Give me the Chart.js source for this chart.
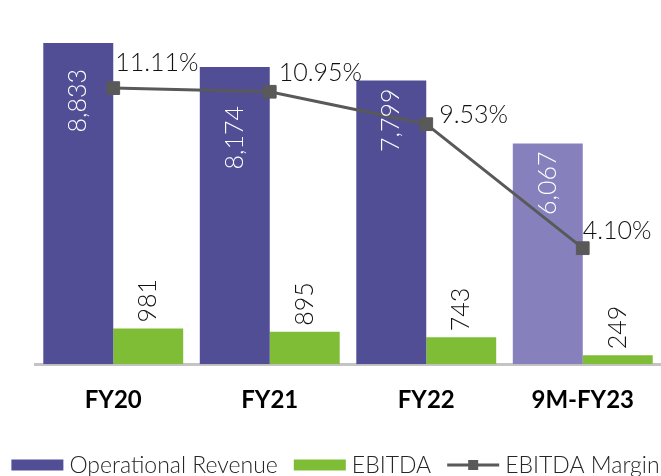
<!DOCTYPE html>
<html>
<head>
<meta charset="utf-8">
<script src="https://cdn.jsdelivr.net/npm/chart.js@4.4.0/dist/chart.umd.min.js"></script>
<style>
  html, body { margin: 0; padding: 0; background: #fff; overflow: hidden; }
</style>
</head>
<body>
<canvas id="miGrafico" width="671" height="476"></canvas>
<script>
// datos
const categorias = ['FY20', 'FY21', 'FY22', '9M-FY23'];
const ingresos = [8833, 8174, 7799, 6067];
const ebitda = [981, 895, 743, 249];
const margen = [11.11, 10.95, 9.53, 4.10];

const MORADO = '#524e96';
const MORADO_CLARO = '#8681bd';
const VERDE = '#7fbd37';
const GRIS = '#595959';
const FUENTE = 'Lato, "DejaVu Sans", sans-serif';

// desplazamientos de las etiquetas (estilo, no datos)
const bajadaIngresos = [26, 39, 8, 8];
const dxMargen = [2, 9, 13, 0];
const dyMargen = [-25, -19, -9, -17];

const etiquetas = {
  id: 'etiquetas',
  afterDatasetsDraw(chart) {
    const ctx = chart.ctx;
    ctx.save();
    ctx.font = '300 25px ' + FUENTE;
    ctx.textBaseline = 'middle';

    chart.getDatasetMeta(1).data.forEach(function (bar, i) {
      ctx.save();
      ctx.translate(bar.x, bar.y + bajadaIngresos[i]);
      ctx.rotate(-Math.PI / 2);
      ctx.textAlign = 'right';
      ctx.fillStyle = '#ffffff';
      ctx.fillText(ingresos[i].toLocaleString('en-US'), 0, 0);
      ctx.restore();
    });

    chart.getDatasetMeta(2).data.forEach(function (bar, i) {
      ctx.save();
      ctx.translate(bar.x, bar.y - 6);
      ctx.rotate(-Math.PI / 2);
      ctx.textAlign = 'left';
      ctx.fillStyle = '#111111';
      ctx.fillText(String(ebitda[i]), 0, 0);
      ctx.restore();
    });

    chart.getDatasetMeta(0).data.forEach(function (pt, i) {
      ctx.textAlign = 'left';
      ctx.fillStyle = '#111111';
      ctx.fillText(margen[i].toFixed(2) + '%', pt.x + dxMargen[i], pt.y + dyMargen[i]);
    });
    ctx.restore();
  }
};

// leyenda dibujada a mano para poder poner la linea con el cuadrado
const leyenda = {
  id: 'leyenda',
  afterDraw(chart) {
    const ctx = chart.ctx;
    const y = 465;
    ctx.save();
    ctx.font = '300 23px ' + FUENTE;
    ctx.textBaseline = 'middle';
    ctx.textAlign = 'left';
    const items = [
      { texto: chart.data.datasets[1].label, tipo: 'caja', color: MORADO },
      { texto: chart.data.datasets[2].label, tipo: 'caja', color: VERDE },
      { texto: chart.data.datasets[0].label, tipo: 'linea', color: GRIS }
    ];
    const ancho = 52, hueco = 6, entre = 16;
    let total = 0;
    items.forEach(function (it) {
      it.w = ancho + hueco + ctx.measureText(it.texto).width;
      total += it.w;
    });
    total += entre * (items.length - 1);
    let x = 335.5 - total / 2;
    items.forEach(function (it) {
      if (it.tipo === 'caja') {
        ctx.fillStyle = it.color;
        ctx.fillRect(x, y - 5.5, ancho, 11);
      } else {
        ctx.strokeStyle = it.color;
        ctx.lineWidth = 3;
        ctx.beginPath();
        ctx.moveTo(x, y);
        ctx.lineTo(x + ancho, y);
        ctx.stroke();
        ctx.fillStyle = it.color;
        ctx.fillRect(x + ancho / 2 - 5, y - 5, 10, 10);
      }
      ctx.fillStyle = '#262626';
      ctx.fillText(it.texto, x + ancho + hueco, y + 1);
      x += it.w + entre;
    });
    ctx.restore();
  }
};

const grafico = new Chart(document.getElementById('miGrafico'), {
  data: {
    labels: categorias,
    datasets: [
      {
        type: 'line',
        label: 'EBITDA Margin',
        data: margen,
        yAxisID: 'y1',
        borderColor: GRIS,
        backgroundColor: GRIS,
        borderWidth: 3,
        pointStyle: 'rect',
        pointRadius: 9,
        pointBorderWidth: 1,
        pointBackgroundColor: GRIS,
        pointBorderColor: GRIS,
        order: 0
      },
      {
        type: 'bar',
        label: 'Operational Revenue',
        data: ingresos,
        yAxisID: 'y',
        backgroundColor: [MORADO, MORADO, MORADO, MORADO_CLARO],
        borderWidth: 0,
        categoryPercentage: 0.894,
        barPercentage: 1.0,
        order: 1
      },
      {
        type: 'bar',
        label: 'EBITDA',
        data: ebitda,
        yAxisID: 'y',
        backgroundColor: VERDE,
        borderWidth: 0,
        categoryPercentage: 0.894,
        barPercentage: 1.0,
        order: 1
      }
    ]
  },
  options: {
    responsive: false,
    animation: false,
    layout: { padding: { left: 35, right: 5, top: 0, bottom: 47 } },
    plugins: {
      legend: { display: false },
      tooltip: { enabled: false }
    },
    scales: {
      x: {
        grid: { display: false },
        border: { display: true, color: '#c4c4c4', width: 3 },
        ticks: {
          color: '#000000',
          padding: 14,
          font: { family: FUENTE, size: 24, weight: 'bold' }
        }
      },
      y: { display: false, min: 0, max: 9741 },
      y1: { display: false, min: -0.98, max: 14.53 }
    }
  },
  plugins: [etiquetas, leyenda]
});
</script>
</body>
</html>
